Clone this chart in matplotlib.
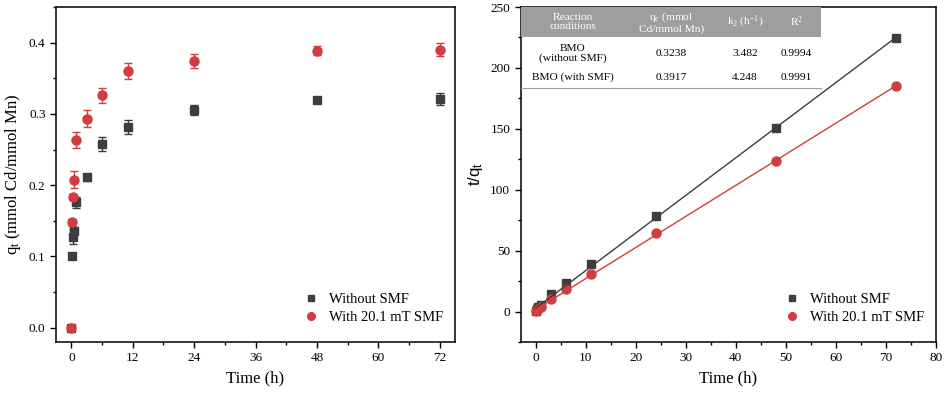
import numpy as np
import matplotlib
matplotlib.use('Agg')
import matplotlib.pyplot as plt
from matplotlib.patches import Rectangle
from matplotlib.ticker import MultipleLocator

plt.rcParams['font.family'] = ['Liberation Serif', 'DejaVu Serif']
plt.rcParams['mathtext.default'] = 'regular'

# kinetics data
time = [0, 0.083, 0.25, 0.5, 1, 3, 6, 11, 24, 48, 72]
q_off = [0, 0.100, 0.128, 0.136, 0.176, 0.211, 0.258, 0.282, 0.305, 0.320, 0.321]
err_off = [0, 0.003, 0.010, 0.005, 0.008, 0.005, 0.010, 0.010, 0.007, 0.003, 0.008]
q_on = [0, 0.148, 0.183, 0.208, 0.263, 0.293, 0.326, 0.360, 0.374, 0.389, 0.390]
err_on = [0, 0.005, 0.004, 0.012, 0.011, 0.012, 0.010, 0.011, 0.010, 0.007, 0.009]

# pseudo-second-order plot
time_fit = [0.083, 0.25, 0.5, 1, 3, 6, 11, 24, 48, 72]
tq_off = [0.8, 2.0, 3.7, 5.7, 14.2, 23.2, 39.0, 78.7, 150.5, 224.3]
tq_on = [0.6, 1.4, 2.4, 3.8, 10.2, 18.2, 30.6, 64.2, 123.6, 184.8]

# table of fitted parameters
col_labels = ['Reaction\nconditions', 'q$_e$ (mmol\nCd/mmol Mn)', 'k$_2$ (h$^{-1}$)', 'R$^2$']
row_names = ['BMO\n(without SMF)', 'BMO (with SMF)']
qe = [0.3238, 0.3917]
k2 = [3.482, 4.248]
r2 = [0.9994, 0.9991]

c_off = '#3d3d3d'
c_on = '#d23c3c'

fig = plt.figure(figsize=(9.45, 3.97), dpi=100)
ax1 = fig.add_axes([0.0593, 0.1385, 0.4222, 0.8438])
ax2 = fig.add_axes([0.551, 0.1385, 0.4395, 0.8438])

leg_kw = dict(loc='lower right', bbox_to_anchor=(1.0, 0.02), frameon=False,
              fontsize=10.5, handletextpad=0.5, borderaxespad=0.4,
              labelspacing=0.3, handlelength=1.5, markerscale=0.85)

# left panel
eb1 = ax1.errorbar(time, q_off, yerr=err_off, fmt='s', ms=5.5, color=c_off,
                   ecolor=c_off, elinewidth=1, capsize=3, label='Without SMF')
eb2 = ax1.errorbar(time, q_on, yerr=err_on, fmt='o', ms=6.5, color=c_on,
                   ecolor=c_on, elinewidth=1, capsize=3, label='With 20.1 mT SMF')
ax1.set_xlim(-3, 75)
ax1.set_ylim(-0.02, 0.45)
ax1.xaxis.set_major_locator(MultipleLocator(12))
ax1.xaxis.set_minor_locator(MultipleLocator(6))
ax1.yaxis.set_major_locator(MultipleLocator(0.1))
ax1.yaxis.set_minor_locator(MultipleLocator(0.05))
ax1.yaxis.set_major_formatter(plt.FormatStrFormatter('%.1f'))
ax1.set_xlabel('Time (h)', fontsize=12)
ax1.set_ylabel('q$_t$ (mmol Cd/mmol Mn)', fontsize=12)
ax1.legend(handles=[eb1[0], eb2[0]], labels=['Without SMF', 'With 20.1 mT SMF'],
           **leg_kw)

# right panel
ax2.plot(time_fit, tq_off, 's', ms=5.5, color=c_off, label='Without SMF')
ax2.plot(time_fit, tq_on, 'o', ms=6.5, color=c_on, label='With 20.1 mT SMF')
t_line = np.array([0, 72])
for q, k, c in zip(qe, k2, [c_off, c_on]):
    ax2.plot(t_line, 1 / (k * q ** 2) + t_line / q, '-', color=c, lw=1)
ax2.set_xlim(-3, 80)
ax2.set_ylim(-25, 250)
ax2.xaxis.set_major_locator(MultipleLocator(10))
ax2.xaxis.set_minor_locator(MultipleLocator(5))
ax2.yaxis.set_major_locator(MultipleLocator(50))
ax2.yaxis.set_minor_locator(MultipleLocator(25))
ax2.set_xlabel('Time (h)', fontsize=12)
ax2.set_ylabel('t/q$_t$', fontsize=12, family=['Liberation Sans', 'DejaVu Sans'])
ax2.legend(**leg_kw)

for ax in (ax1, ax2):
    ax.tick_params(which='both', direction='out', labelsize=9.5, width=1)
    ax.tick_params(which='major', length=4)
    ax.tick_params(which='minor', length=2.5)
    for s in ax.spines.values():
        s.set_linewidth(1.1)

# parameter table in the right panel
col_edges = [0, 0.251, 0.475, 0.605, 0.722]
head_top, head_bot, body_bot = 1.0, 0.911, 0.757
ax2.add_patch(Rectangle((0, head_bot), col_edges[-1], head_top - head_bot,
                        transform=ax2.transAxes, facecolor='#9e9e9e',
                        edgecolor='none', zorder=3))
ax2.plot([0, col_edges[-1]], [body_bot, body_bot], transform=ax2.transAxes,
         color='#9e9e9e', lw=0.8, zorder=3)
centers = [(a + b) / 2 for a, b in zip(col_edges[:-1], col_edges[1:])]
for x, lab in zip(centers, col_labels):
    ax2.text(x, (head_top + head_bot) / 2, lab, transform=ax2.transAxes,
             ha='center', va='center', color='white', fontsize=8.2,
             linespacing=1.05, zorder=4)
row_y = [0.862, 0.790]
for i in range(len(row_names)):
    vals = [row_names[i], f'{qe[i]:.4f}', f'{k2[i]:.3f}', f'{r2[i]:.4f}']
    for x, v in zip(centers, vals):
        ax2.text(x, row_y[i], v, transform=ax2.transAxes, ha='center',
                 va='center', fontsize=8.2, linespacing=1.05, zorder=4)

fig.savefig('out.png', dpi=100)
